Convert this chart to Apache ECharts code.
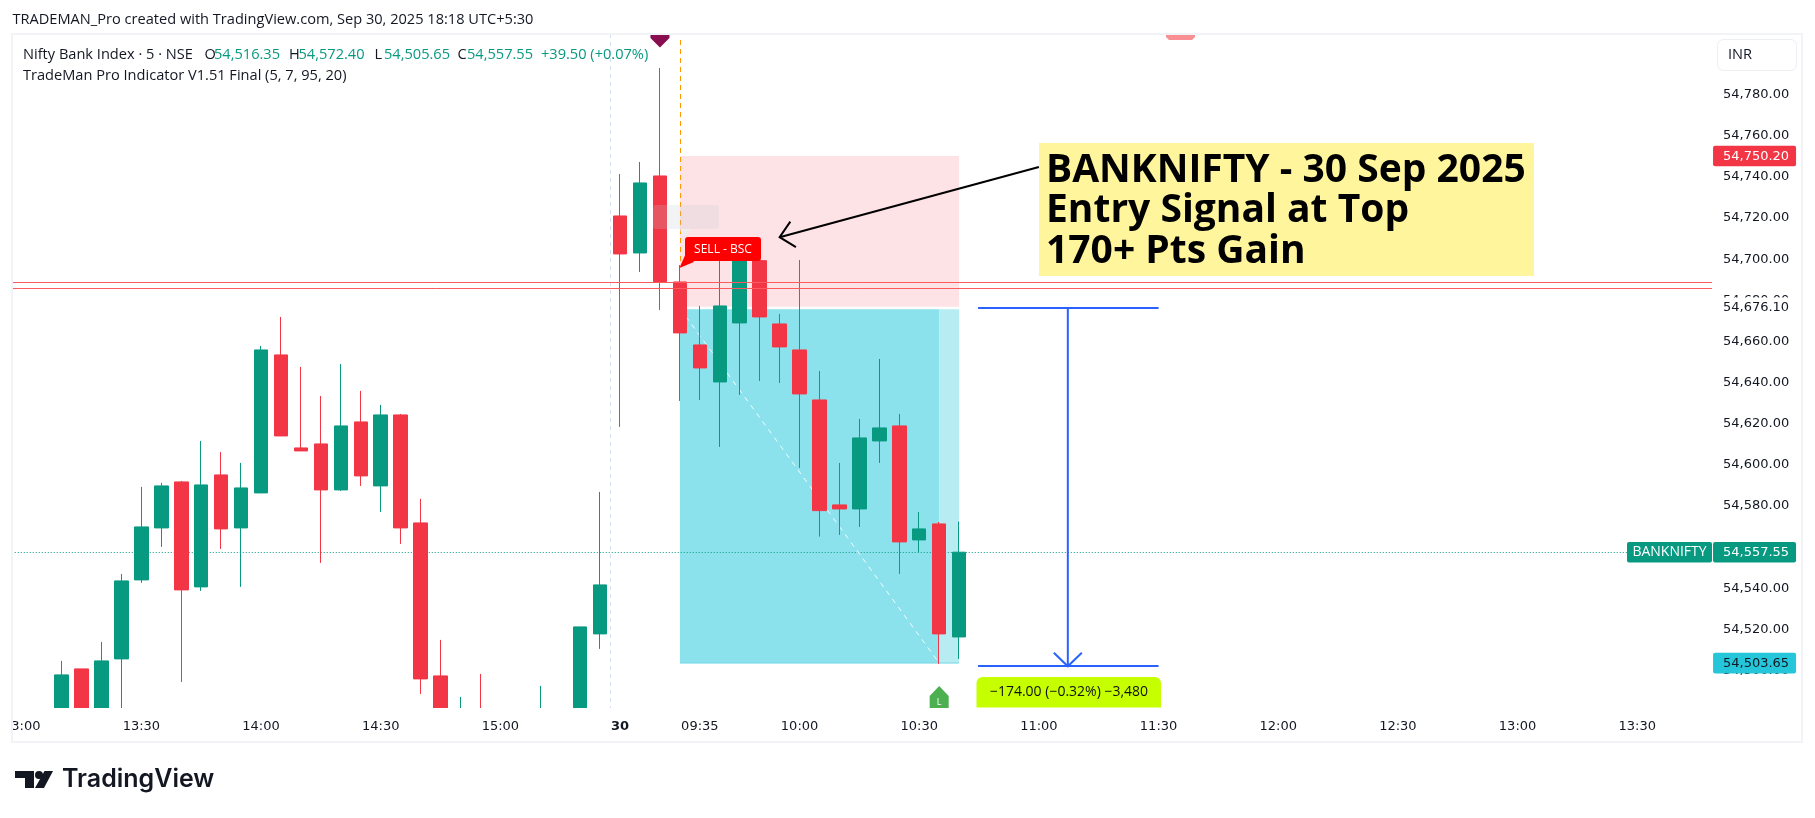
<!DOCTYPE html>
<html><head><meta charset="utf-8">
<style>html,body{margin:0;padding:0;background:#fff}#c{width:1815px;height:818px}</style>
<script src="https://cdn.jsdelivr.net/npm/echarts@6/dist/echarts.min.js"></script>
</head><body><div id="c"></div>
<script>
const times = ['13:00','13:05','13:10','13:15','13:20','13:25','13:30','13:35','13:40','13:45','13:50','13:55','14:00','14:05','14:10','14:15','14:20','14:25','14:30','14:35','14:40','14:45','14:50','14:55','15:00','15:05','15:10','15:15','15:20','15:25','09:15','09:20','09:25','09:30','09:35','09:40','09:45','09:50','09:55','10:00','10:05','10:10','10:15','10:20','10:25','10:30','10:35','10:40','10:45','10:50','10:55','11:00','11:05','11:10','11:15','11:20','11:25','11:30','11:35','11:40','11:45','11:50','11:55','12:00','12:05','12:10','12:15','12:20','12:25','12:30','12:35','12:40','12:45','12:50','12:55','13:00','13:05','13:10','13:15','13:20','13:25','13:30','13:35','13:40','13:45'];
const timeTicks = [0,6,12,18,24,30,34,39,45,51,57,63,69,75,81];
const priceTicks = [54500,54520,54540,54560,54580,54600,54620,54640,54660,54680,54700,54720,54740,54760,54780];
const opens = [null,null,54470,54500.81,54468,54505.67,54544.08,54569.36,54591.72,54540.68,54595.12,54569.36,54586.37,54653.46,54608.25,54610.19,54587.83,54620.89,54589.78,54624.29,54571.79,54497.41,54462,54478,54462,54474,54464,54470,54476,54517.83,54721.03,54703.04,54740.48,54688.95,54658.32,54640.33,54669.02,54699.30,54668.53,54655.89,54631.58,54580.54,54578.59,54611.65,54618.94,54563.52,54571.30,54516.35];
const closes = [null,null,54497.90,54468,54504.70,54543.59,54569.84,54589.78,54539.22,54590.26,54568.87,54588.80,54655.89,54614.08,54606.79,54587.83,54618.94,54594.64,54624.29,54569.36,54495.95,54470,54475,54465,54472,54464,54476,54479,54521.23,54541.65,54702.56,54737.08,54688.95,54664.16,54647.14,54677.28,54699.30,54671.93,54657.35,54634.50,54577.77,54578.59,54613.11,54617.97,54562.55,54568.87,54517.83,54557.55];
const lows = [null,null,54462,54460,54462,54470,54542.62,54560.12,54494.49,54538.73,54559.15,54540.68,54586.37,54614.08,54606.79,54552.34,54587.35,54589.78,54577.14,54561.58,54488.66,54462,54458,54455,54455,54458,54460,54466,54472,54510.54,54618.46,54693.81,54675.34,54631.10,54631.58,54608.74,54634.01,54640.82,54639.85,54598.53,54565.13,54565.96,54569.84,54600.96,54547.00,54557.55,54503.24,54505.65];
const highs = [null,null,54504.70,54500.81,54513.94,54547.00,54589.29,54591.23,54592.21,54611.65,54606.30,54600.96,54657.84,54671.93,54647.63,54633.53,54649.08,54635.96,54629.15,54624.78,54583.46,54514.91,54487.20,54498.38,54479,54480,54492.55,54481,54521.23,54586.86,54741.45,54747.29,54792.98,54697.21,54677.28,54700.62,54700.62,54699.64,54673.39,54699.64,54645.68,54600.96,54622.35,54651.52,54624.78,54577.14,54572.27,54572.40];
const lastClose = 54557.55, stopPrice = 54750.20, entryPrice = 54676.10, targetPrice = 54503.65;
const redLevels = [54688.8, 54685.9];
const rangeTop = 54676.10, rangeBottom = 54502.10;
const headerOHLC = [['O','54,516.35',204.5],['H','54,572.40',289],['L','54,505.65',374.5],['C','54,557.55',457.5]];

const GREEN='#089981', RED='#F23645';
const UI='"Open Sans","DejaVu Sans",sans-serif';
const AX='"DejaVu Sans",sans-serif';
const minY=54481.8, maxY=54809.5;
const HF='14.6px '+UI;
const candles = opens.map((o,i)=> o===null?['-','-','-','-']:[o,closes[i],lows[i],highs[i]]);

function line(p1,p2,stroke,w,dash){return {type:'line',shape:{x1:p1[0],y1:p1[1],x2:p2[0],y2:p2[1]},style:{stroke,lineWidth:w,lineDash:dash||null}};}
function poly(points,fill){return {type:'polygon',shape:{points},style:{fill}};}
function rect(x,y,w,h,fill,r){return {type:'rect',shape:{x,y,width:w,height:h,r:r||0},style:{fill}};}
function text(t,x,y,fill,font,align){return {type:'text',style:{text:t,x,y,fill,font,textAlign:align||'left',textVerticalAlign:'middle'}};}
function sharp(v){return Math.round(v)+0.5;}

function under(params,api){
  const g=params.coordSys, L=g.x;
  const a=api.coord([33,stopPrice]), b=api.coord([47,entryPrice]), split=api.coord([46,targetPrice]), c=api.coord([47,targetPrice]);
  const e=api.coord([33,entryPrice]);
  const ly=sharp(api.coord([0,lastClose])[1]);
  const sx=sharp((api.coord([29,lastClose])[0]+api.coord([30,lastClose])[0])/2);
  const ox=sharp(a[0]);
  const oy=api.coord([33,54697.21])[1];
  return {type:'group',children:[
    line([sx,g.y],[sx,g.y+g.height],'#d4def4',1,[4,4]),
    rect(a[0],a[1],b[0]-a[0],b[1]-a[1]-1.5,'#fde3e6'),
    rect(e[0],e[1]+1,split[0]-e[0],split[1]-e[1]-1,'#8be2ec'),
    rect(split[0],e[1]+1,c[0]-split[0],split[1]-e[1]-1,'#b8ecf3'),
    line([e[0],split[1]],[c[0],split[1]],'#74d8e6',1),
    line([L,ly],[1627,ly],GREEN,1,[1,2]),
    line(api.coord([33,entryPrice]),api.coord([46,targetPrice]),'rgba(255,255,255,.9)',1,[5,5]),
    line([ox,40],[ox,oy],'#FF9800',1,[5,4])
  ]};
}

function over(params,api){
  const g=params.coordSys, R=g.x+g.width+5, AXL=R+1, L=g.x;
  const kids=[];
  redLevels.forEach(p=>{const y=sharp(api.coord([0,p])[1]);kids.push(line([L,y],[R,y],'#fb5a5e',1));});
  kids.push(rect(653,205,66,24,'rgba(190,200,210,.22)',3));
  kids.push(poly([[679,229],[691,229],[684,238]],'rgba(225,245,248,.55)'));
  const f=api.coord([33,54697.21]);
  kids.push(poly([[f[0]+8,249],[f[0]+14,262],[f[0]-0.5,f[1]+3]],'#ff0000'));
  kids.push(rect(685,237,76,24,'#ff0000',3));
  kids.push(text('SELL - BSC',723,249.5,'#fff','12px '+UI,'center'));
  const m=api.coord([32,maxY])[0];
  kids.push(poly([[m-9.5,34],[m+9.5,34],[m+9.5,38],[m,47.5],[m-9.5,38]],'#880E4F'));
  kids.push(poly([[1166,34],[1195,34],[1195,37],[1192,40],[1169,40],[1166,37]],'#f98f93'));
  const t=api.coord([38,54710.7]), s=api.coord([51,54744.85]);
  kids.push(line(t,s,'#000',2));
  kids.push({type:'polyline',shape:{points:[[t[0]+10.7,t[1]-15.6],t,[t[0]+16.3,t[1]+10]]},style:{stroke:'#000',lineWidth:2,fill:null}});
  const B='#2962FF';
  const a=api.coord([48,rangeTop]), b=api.coord([57,rangeBottom]);
  const mx=(a[0]+b[0])/2-1;
  kids.push(line([a[0]-1,Math.round(a[1])],[b[0],Math.round(a[1])],B,2));
  kids.push(line([a[0]-1,Math.round(b[1])],[b[0],Math.round(b[1])],B,2));
  kids.push(line([mx,a[1]],[mx,b[1]],B,2));
  kids.push({type:'polyline',shape:{points:[[mx-14,b[1]-13.5],[mx,b[1]],[mx+14,b[1]-13.5]]},style:{stroke:B,lineWidth:2,fill:null}});
  const lx=api.coord([46,targetPrice])[0];
  kids.push(poly([[lx-9.5,708],[lx-9.5,696],[lx,686],[lx+9.5,696],[lx+9.5,708]],'#4CAF50'));
  kids.push(text('L',lx,702.5,'#fff','9px '+UI,'center'));
  kids.push({type:'rect',shape:{x:976.5,y:677,width:184.5,height:30.5,r:[6,6,0,0]},style:{fill:'#C6FF00'}});
  kids.push(text('\u2212174.00 (\u22120.32%) \u22123,480',1069,692,'#111','14px '+UI,'center'));
  const tag=(p,t,bg,fg)=>{const y=api.coord([0,p])[1];
    kids.push(rect(AXL,y-10.3,83,20.7,bg,2));
    kids.push(text(t,AXL+43,y+0.3,fg,'13px '+AX,'center'));};
  kids.push(rect(AXL,297.5,83,21,'#fff'));
  kids.push(text('54,676.10',AXL+43,307.5,'#131722','13px '+AX,'center'));
  tag(stopPrice,'54,750.20',RED,'#fff');
  tag(lastClose,'54,557.55',GREEN,'#fff');
  tag(targetPrice,'54,503.65','#26C6DA','#131722');
  const ly=api.coord([0,lastClose])[1];
  kids.push(rect(1627,ly-10.3,85,20.7,GREEN,2));
  kids.push(text('BANKNIFTY',1669.5,ly+0.3,'#fff','14px '+UI,'center'));
  return {type:'group',children:kids};
}

const graphics=[
  {type:'rect',z:10,shape:{x:0,y:708,width:1815,height:110},style:{fill:'#fff'}},
  {type:'rect',z:100,shape:{x:0,y:30,width:13,height:720},style:{fill:'#fff'}},
  {type:'rect',z:101,shape:{x:12,y:34,width:1790,height:708},style:{fill:'none',stroke:'#f1f3f6',lineWidth:2}},
  {type:'text',z:101,x:12.5,y:20,style:{text:'TRADEMAN_Pro created with TradingView.com, Sep 30, 2025 18:18 UTC+5:30',fill:'#131722',font:HF,textVerticalAlign:'middle'}},
  {type:'text',z:101,x:23,y:55,style:{text:'Nifty Bank Index \u00b7 5 \u00b7 NSE',fill:'#131722',font:HF,textVerticalAlign:'middle'}},
  {type:'text',z:101,x:23,y:76,style:{text:'TradeMan Pro Indicator V1.51 Final (5, 7, 95, 20)',fill:'#131722',font:HF,textVerticalAlign:'middle'}},
  {type:'text',z:101,x:541,y:55,style:{text:'+39.50 (+0.07%)',fill:GREEN,font:HF,textVerticalAlign:'middle'}},
  {type:'rect',z:101,shape:{x:1717.5,y:39.5,width:79,height:31,r:6},style:{fill:'#fff',stroke:'#eceef2',lineWidth:1}},
  {type:'text',z:101,x:1728,y:55,style:{text:'INR',fill:'#131722',font:HF,textVerticalAlign:'middle'}},
  {type:'rect',z:101,shape:{x:1039,y:143,width:495,height:133},style:{fill:'#fff59d'}},
  {type:'text',z:102,x:1046,y:170.5,style:{text:'BANKNIFTY - 30 Sep 2025',fill:'#000',font:'bold 39px '+UI,textVerticalAlign:'middle'}},
  {type:'text',z:102,x:1046,y:211,style:{text:'Entry Signal at Top',fill:'#000',font:'bold 39px '+UI,textVerticalAlign:'middle'}},
  {type:'text',z:102,x:1046,y:252,style:{text:'170+ Pts Gain',fill:'#000',font:'bold 39px '+UI,textVerticalAlign:'middle'}},
  {type:'polygon',z:101,shape:{points:[[15,771],[34,771],[34,788],[25,788],[25,778],[15,778]]},style:{fill:'#131722'}},
  {type:'circle',z:101,shape:{cx:39,cy:775,r:4},style:{fill:'#131722'}},
  {type:'polygon',z:101,shape:{points:[[44.5,771],[53,771],[44,788],[35,788]]},style:{fill:'#131722'}},
  {type:'text',z:101,x:62,y:779,style:{text:'TradingView',fill:'#131722',font:'600 25px Inter,'+UI,textVerticalAlign:'middle'}}
];
headerOHLC.forEach(h=>{
  graphics.push({type:'text',z:101,x:h[2],y:55,style:{text:h[0],fill:'#131722',font:HF,textVerticalAlign:'middle'}});
  graphics.push({type:'text',z:101,x:h[2]+9.5,y:55,style:{text:h[1],fill:GREEN,font:HF,textVerticalAlign:'middle'}});
});

const chart=echarts.init(document.getElementById('c'),null,{renderer:'canvas'});
chart.setOption({
  animation:false,
  backgroundColor:'#fff',
  graphic:{elements:graphics},
  grid:{left:11.3,top:34,width:19.95*times.length,height:674,containLabel:false},
  xAxis:{type:'category',data:times,boundaryGap:true,z:50,
    axisLine:{show:false},axisTick:{show:false},splitLine:{show:false},
    axisLabel:{interval:i=>timeTicks.includes(i),margin:12,color:'#131722',fontFamily:AX,fontSize:13,
      formatter:(v,i)=> i===30?'{b|30}':v, rich:{b:{fontWeight:'bold',fontFamily:AX,fontSize:13,color:'#131722'}}}},
  yAxis:{type:'value',position:'right',min:minY,max:maxY,scale:true,
    axisLine:{show:false},axisTick:{show:false},splitLine:{show:false},
    axisLabel:{customValues:priceTicks,margin:16,color:'#131722',fontFamily:AX,fontSize:13,
      formatter:v=>v.toLocaleString('en-US',{minimumFractionDigits:2,maximumFractionDigits:2})}},
  series:[
    {type:'custom',z:1,silent:true,clip:false,data:[[0,minY]],renderItem:under},
    {type:'candlestick',z:2,silent:true,clip:true,data:candles,barWidth:14,
      itemStyle:{color:GREEN,color0:RED,borderColor:GREEN,borderColor0:RED,borderWidth:1}},
    {type:'custom',z:3,silent:true,clip:false,data:[[0,minY]],renderItem:over}
  ]
});
</script></body></html>
